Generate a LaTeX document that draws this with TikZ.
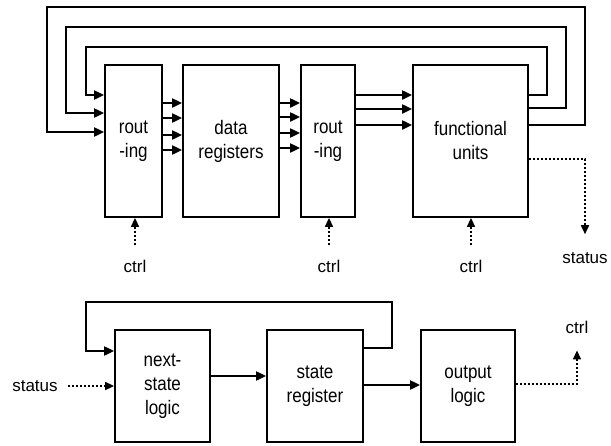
\documentclass[tikz,border=0pt]{standalone}
\usepackage{fontspec}
\setmainfont{Liberation Sans}
\usetikzlibrary{arrows.meta}
\newcommand\tline[1]{\scalebox{1}[1.15]{#1}}
\begin{document}
\begin{tikzpicture}[x=1pt,y=-1pt,
  txt/.style={font=\fontsize{17}{24}\selectfont},
  blk/.style={txt,draw,line width=1.8pt,align=center,inner sep=0pt},
  lbl/.style={txt,inner sep=0pt},
  wire/.style={line width=2pt,-{Triangle[length=10pt,width=9pt]}},
  sig/.style={line width=1.6pt,dash pattern=on 2pt off 2pt,-{Triangle[length=9pt,width=8pt]}}]
\useasboundingbox (0,0) rectangle (611,445);

% datapath blocks
\node[blk,minimum width=57pt,minimum height=152pt] (r1) at (133.5,141) {\tline{rout}\\\tline{-ing}};
\node[blk,minimum width=96pt,minimum height=152pt] (dr) at (231,141) {\tline{data}\\\tline{registers}};
\node[blk,minimum width=54pt,minimum height=152pt] (r2) at (328,141) {\tline{rout}\\\tline{-ing}};
\node[blk,minimum width=115pt,minimum height=152pt] (fu) at (470.5,141) {\tline{functional}\\\tline{units}};

% results fed back to the first routing stage
\draw[wire] (fu.east |- 0,95)  -- (547,95)  |- (86,47) |- (r1.west |- 0,95);
\draw[wire] (fu.east |- 0,108) -- (566,108) |- (66,27) |- (r1.west |- 0,113);
\draw[wire] (fu.east |- 0,125) -- (585,125) |- (47,7)  |- (r1.west |- 0,132);

% buses between the stages
\foreach \y in {103,118,135,150}
  \draw[wire] (r1.east |- 0,\y) -- (dr.west |- 0,\y);
\foreach \y in {103,117,133,148}
  \draw[wire] (dr.east |- 0,\y) -- (r2.west |- 0,\y);
\foreach \y in {95,109,125}
  \draw[wire] (r2.east |- 0,\y) -- (fu.west |- 0,\y);

% control inputs and status output
\node[lbl] (c1) at (135,266) {ctrl};
\node[lbl] (c2) at (329,266) {ctrl};
\node[lbl] (c3) at (471,266) {ctrl};
\draw[sig] ([yshift=15pt]c1.north) -- (c1.north |- r1.south);
\draw[sig] ([yshift=15pt]c2.north) -- (c2.north |- r2.south);
\draw[sig] ([yshift=15pt]c3.north) -- (c3.north |- fu.south);
\node[lbl] (st) at (585,258) {status};
\draw[sig] (fu.east |- 0,159) -| ([yshift=18pt]st.north);

% controller
\node[blk,minimum width=95pt,minimum height=112pt] (ns) at (162.5,386) {\tline{next-}\\\tline{state}\\\tline{logic}};
\node[blk,minimum width=96pt,minimum height=112pt] (sr) at (315,386) {\tline{state}\\\tline{register}};
\node[blk,minimum width=94pt,minimum height=112pt] (ol) at (468,386) {\tline{output}\\\tline{logic}};
\draw[wire] (ns.east |- 0,376) -- (sr.west |- 0,376);
\draw[wire] (sr.east |- 0,385) -- (ol.west |- 0,385);
\draw[wire] (sr.east |- 0,348) -- (392,348) |- (86,302) |- (ns.west |- 0,351);

\node[lbl] (sin) at (35,386) {status};
\draw[sig] ([xshift=10pt]sin.east) -- (ns.west |- sin.east);
\node[lbl] (cout) at (577,327) {ctrl};
\draw[sig] (ol.east |- 0,384) -| ([yshift=-17pt]cout.south);
\end{tikzpicture}
\end{document}
